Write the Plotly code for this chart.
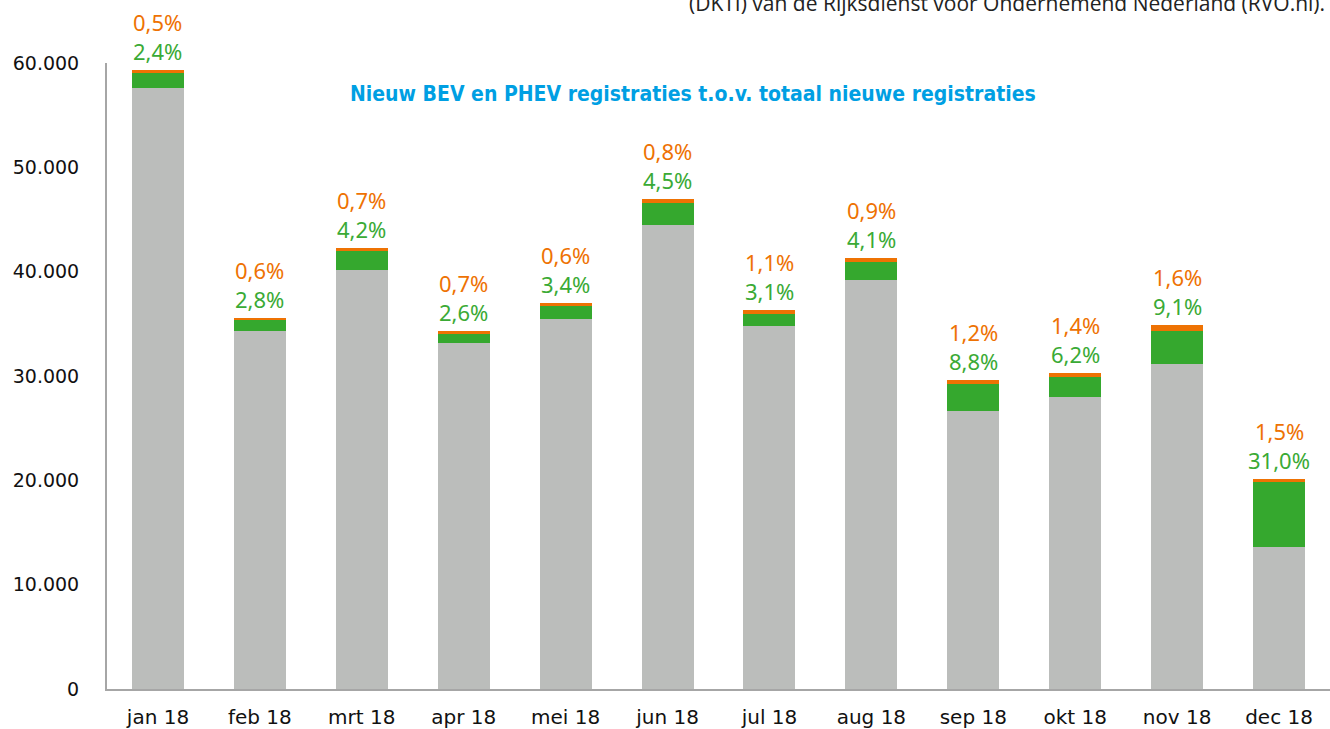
import plotly.graph_objects as go

months = ["jan 18", "feb 18", "mrt 18", "apr 18", "mei 18", "jun 18",
          "jul 18", "aug 18", "sep 18", "okt 18", "nov 18", "dec 18"]
overig = [57610, 34330, 40160, 33170, 35490, 44510, 34780, 39210, 26660, 27980, 31140, 13610]
groen = [1424, 995, 1774, 892, 1257, 2115, 1125, 1692, 2607, 1878, 3173, 6250]
oranje = [297, 213, 296, 240, 222, 376, 400, 371, 355, 424, 558, 302]
groen_lbl = ["2,4%", "2,8%", "4,2%", "2,6%", "3,4%", "4,5%", "3,1%", "4,1%", "8,8%", "6,2%", "9,1%", "31,0%"]
oranje_lbl = ["0,5%", "0,6%", "0,7%", "0,7%", "0,6%", "0,8%", "1,1%", "0,9%", "1,2%", "1,4%", "1,6%", "1,5%"]

GREY = "#BBBDBB"
GREEN = "#35A82E"
ORANGE = "#EE7203"

fig = go.Figure()
fig.add_bar(x=months, y=overig, marker=dict(color=GREY, line=dict(width=0)), width=0.51, name="overig")
fig.add_bar(x=months, y=groen, marker=dict(color=GREEN, line=dict(width=0)), width=0.51, name="groen")
fig.add_bar(x=months, y=oranje, marker=dict(color=ORANGE, line=dict(width=0)), width=0.51, name="oranje")

pct_font = "Noto Sans"
for m, a, b, c, gl, ol in zip(months, overig, groen, oranje, groen_lbl, oranje_lbl):
    tot = a + b + c
    fig.add_annotation(x=m, y=tot, text=gl, showarrow=False, yanchor="bottom", borderpad=0,
                       yshift=3, font=dict(family=pct_font, size=22, color="#3AAA35"))
    fig.add_annotation(x=m, y=tot, text=ol, showarrow=False, yanchor="bottom", borderpad=0,
                       yshift=32, font=dict(family=pct_font, size=22, color="#EE7203"))

fig.add_annotation(xref="paper", yref="paper", x=0.5, y=1.0,
                   text="<b>Nieuw BEV en PHEV registraties t.o.v. totaal nieuwe registraties</b>",
                   showarrow=False, xanchor="center", yanchor="top", yshift=-17, xshift=-26,
                   font=dict(family="DejaVu Sans Condensed", size=21, color="#009FE3"))

fig.add_annotation(xref="paper", yref="paper", x=1.0, y=1.0,
                   text="(DKTI) van de Rijksdienst voor Ondernemend Nederland (RVO.nl).",
                   showarrow=False, xanchor="right", yanchor="bottom", yshift=44, xshift=-3,
                   font=dict(family="Open Sans", size=21, color="#222222"))

fig.update_layout(
    barmode="stack",
    width=1330, height=729,
    margin=dict(l=107, r=0, t=63, b=38),
    plot_bgcolor="white", paper_bgcolor="white",
    showlegend=False,
    separators=",.",
    xaxis=dict(showline=True, linecolor="#A6A6A6", linewidth=2, ticks="",
               ticklabelstandoff=9,
               tickfont=dict(family="DejaVu Sans", size=20, color="#111111"),
               showgrid=False, range=[-0.5, 11.5]),
    yaxis=dict(range=[0, 60000], dtick=10000, tickformat=",d", showline=True,
               linecolor="#A6A6A6", linewidth=2, showgrid=False, zeroline=False,
               ticks="", ticklabelstandoff=22,
               tickfont=dict(family="DejaVu Sans", size=19, color="#111111")),
)

fig.write_html("out.html", config={"displayModeBar": False},
               post_script="document.body.style.margin='0';")
